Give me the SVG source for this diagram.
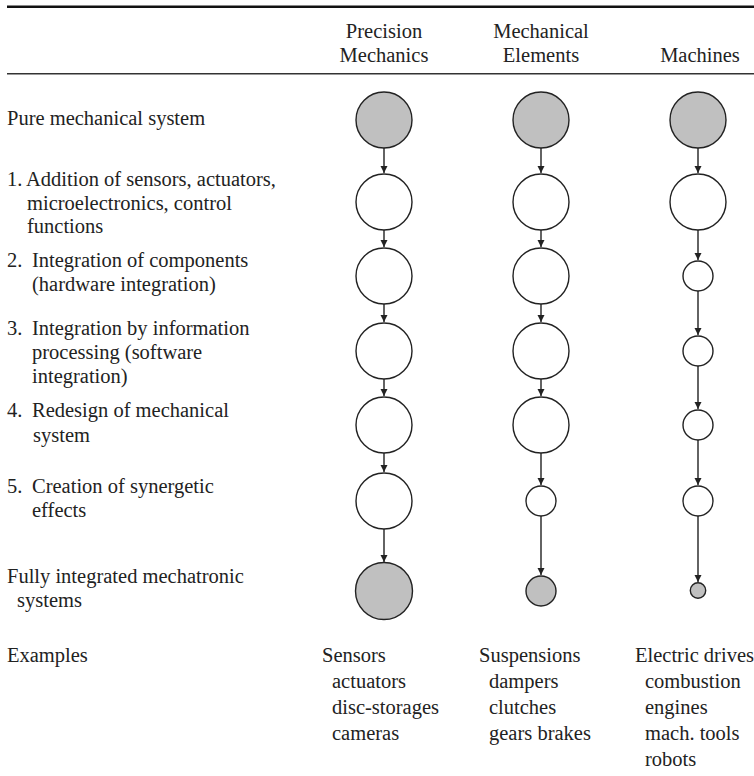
<svg xmlns="http://www.w3.org/2000/svg" width="754" height="776" viewBox="0 0 754 776">
<style>
text{font-family:"Liberation Serif","Times New Roman",serif;font-size:20.5px;fill:#222}
.h{text-anchor:middle}
.c{stroke:#222;stroke-width:1.4;fill:#fff}
.g{fill:#c0c0c0}
.a{stroke:#222;stroke-width:1.4;fill:none;marker-end:url(#ah)}
</style>
<defs>
<marker id="ah" markerUnits="userSpaceOnUse" markerWidth="8" markerHeight="8" refX="7" refY="3.5" orient="auto">
<path d="M0,0 L7,3.5 L0,7 z" fill="#222"/>
</marker>
</defs>
<rect width="754" height="776" fill="#fff"/>
<line x1="7" y1="6.8" x2="754" y2="6.8" stroke="#111" stroke-width="2.5"/>
<line x1="7" y1="73.8" x2="754" y2="73.8" stroke="#333" stroke-width="1.5"/>
<g id="headers">
<text class="h" x="384" y="38">Precision</text>
<text class="h" x="384" y="62">Mechanics</text>
<text class="h" x="541" y="38">Mechanical</text>
<text class="h" x="541" y="62">Elements</text>
<text class="h" x="700" y="62">Machines</text>
</g>
<g id="labels">
<text x="7" y="125">Pure mechanical system</text>
<text x="7" y="186">1.</text>
<text x="26" y="186">Addition of sensors, actuators,</text>
<text x="27" y="210">microelectronics, control</text>
<text x="27" y="233">functions</text>
<text x="7" y="267">2.</text>
<text x="32" y="267">Integration of components</text>
<text x="32" y="291">(hardware integration)</text>
<text x="7" y="335">3.</text>
<text x="32" y="335">Integration by information</text>
<text x="32" y="359">processing (software</text>
<text x="32" y="383">integration)</text>
<text x="7" y="417">4.</text>
<text x="32" y="417">Redesign of mechanical</text>
<text x="33" y="442">system</text>
<text x="7" y="493">5.</text>
<text x="32" y="493">Creation of synergetic</text>
<text x="32" y="517">effects</text>
<text x="7" y="583">Fully integrated mechatronic</text>
<text x="17" y="607">systems</text>
<text x="7" y="662">Examples</text>
</g>
<g id="connectors">
<line class="a" x1="384" y1="148" x2="384" y2="173"/>
<line class="a" x1="384" y1="230" x2="384" y2="247"/>
<line class="a" x1="384" y1="304" x2="384" y2="322"/>
<line class="a" x1="384" y1="379" x2="384" y2="396"/>
<line class="a" x1="384" y1="453" x2="384" y2="472"/>
<line class="a" x1="384" y1="529" x2="384" y2="562"/>
<line class="a" x1="541" y1="148" x2="541" y2="173"/>
<line class="a" x1="541" y1="230" x2="541" y2="247"/>
<line class="a" x1="541" y1="304" x2="541" y2="322"/>
<line class="a" x1="541" y1="379" x2="541" y2="396"/>
<line class="a" x1="541" y1="453" x2="541" y2="485"/>
<line class="a" x1="541" y1="516" x2="541" y2="575"/>
<line class="a" x1="698" y1="148" x2="698" y2="173"/>
<line class="a" x1="698" y1="230" x2="698" y2="260"/>
<line class="a" x1="698" y1="291" x2="698" y2="335"/>
<line class="a" x1="698" y1="366" x2="698" y2="409"/>
<line class="a" x1="698" y1="440" x2="698" y2="485"/>
<line class="a" x1="698" y1="516" x2="698" y2="582"/>
</g>
<g id="col-precision">
<g id="p0"><circle class="c g" cx="384" cy="120" r="28"/></g>
<g id="p1"><circle class="c" cx="384" cy="202" r="28"/></g>
<g id="p2"><circle class="c" cx="384" cy="276" r="28"/></g>
<g id="p3"><circle class="c" cx="384" cy="351" r="28"/></g>
<g id="p4"><circle class="c" cx="384" cy="425" r="28"/></g>
<g id="p5"><circle class="c" cx="384" cy="501" r="28"/></g>
<g id="p6"><circle class="c g" cx="384" cy="591" r="28.5"/></g>
</g>
<g id="col-elements">
<g id="e0"><circle class="c g" cx="541" cy="120" r="28"/></g>
<g id="e1"><circle class="c" cx="541" cy="202" r="28"/></g>
<g id="e2"><circle class="c" cx="541" cy="276" r="28"/></g>
<g id="e3"><circle class="c" cx="541" cy="351" r="28"/></g>
<g id="e4"><circle class="c" cx="541" cy="425" r="28"/></g>
<g id="e5"><circle class="c" cx="541" cy="501" r="15"/></g>
<g id="e6"><circle class="c g" cx="541" cy="591" r="15"/></g>
</g>
<g id="col-machines">
<g id="m0"><circle class="c g" cx="698" cy="120" r="28"/></g>
<g id="m1"><circle class="c" cx="698" cy="202" r="28"/></g>
<g id="m2"><circle class="c" cx="698" cy="276" r="15"/></g>
<g id="m3"><circle class="c" cx="698" cy="351" r="15"/></g>
<g id="m4"><circle class="c" cx="698" cy="425" r="15"/></g>
<g id="m5"><circle class="c" cx="698" cy="501" r="15"/></g>
<g id="m6"><circle class="c g" cx="698" cy="590.5" r="7.7"/></g>
</g>
<g id="examples">
<text x="322" y="662">Sensors</text>
<text x="332" y="688">actuators</text>
<text x="332" y="714">disc-storages</text>
<text x="332" y="740">cameras</text>
<text x="479" y="662">Suspensions</text>
<text x="489" y="688">dampers</text>
<text x="489" y="714">clutches</text>
<text x="489" y="740">gears brakes</text>
<text x="635" y="662">Electric drives</text>
<text x="645" y="688">combustion</text>
<text x="645" y="714">engines</text>
<text x="645" y="740">mach. tools</text>
<text x="645" y="766">robots</text>
</g>
</svg>
